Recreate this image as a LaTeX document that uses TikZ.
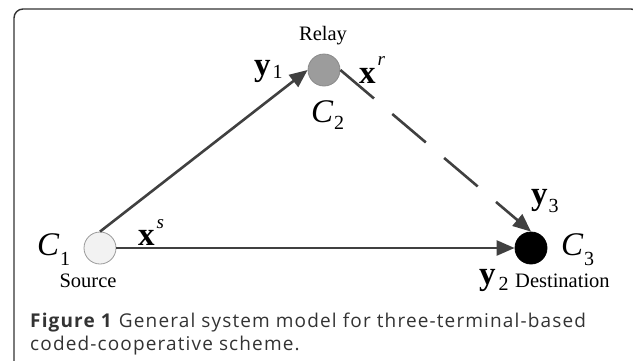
\documentclass[tikz,border=0pt]{standalone}
\usepackage{fontspec}
\setmainfont{Liberation Serif}
\newfontfamily\capfont[LetterSpace=6]{Open Sans}
\usetikzlibrary{arrows.meta}
\definecolor{arrowgray}{HTML}{404040}
\definecolor{framegray}{HTML}{333333}
\definecolor{srcfill}{HTML}{F2F2F2}
\definecolor{srcdraw}{HTML}{9A9A9A}
\definecolor{relayfill}{HTML}{9C9C9C}
\definecolor{relaydraw}{HTML}{8A8A8A}
\definecolor{captext}{HTML}{333333}
\newcommand\capsize{\capfont\fontsize{19pt}{22pt}\selectfont}
\begin{document}
\begin{tikzpicture}[x=1pt,y=-1pt,
  conn/.style={draw=arrowgray, line width=2.6pt, -{Triangle[length=18pt,width=15pt]}},
  term/.style={circle, minimum size=32pt, inner sep=0pt, line width=0.8pt},
  lbl/.style={inner sep=0pt, font=\fontsize{20.5}{20.5}\selectfont},
  sym/.style={anchor=base west, inner sep=0pt, font=\fontsize{33}{33}\selectfont},
  capline/.style={anchor=base west, inner sep=0pt, text=captext}
]
\useasboundingbox (0,0) rectangle (633,360);
\clip (0,0) rectangle (633,360);
\draw[framegray, line width=1.4pt, rounded corners=9pt] (14,9) rectangle (640,380);

\node[term, fill=srcfill, draw=srcdraw] (src) at (100,248) {};
\node[term, fill=relayfill, draw=relaydraw] (relay) at (324,70) {};
\node[term, fill=black, draw=black] (dst) at (531,248) {};

\draw[conn] (src.north) -- (relay.west);
\draw[conn] (src.east) -- (dst.west);
\draw[conn, dash pattern=on 44pt off 24pt] (relay.east) -- (dst.north);

\node[lbl, anchor=base] (relaylbl) at (323,40) {Relay};
\node[lbl, anchor=base] (srclbl) at (88,287) {Source};
\node[lbl, anchor=base west] (dstlbl) at (515,287) {Destination};

\newcommand\subtxt[2]{\raisebox{#1}{\fontsize{20}{20}\selectfont\upshape\mdseries #2}}
\node[sym] (c1) at (37,255) {\itshape C\kern1pt\subtxt{-10pt}{1}};
\node[sym] (c2) at (311,122) {\itshape C\kern1pt\subtxt{-7pt}{2}};
\node[sym] (c3) at (561,255) {\itshape C\kern1pt\subtxt{-10pt}{3}};

\node[sym] (y1) at (254,75) {\bfseries y\kern2pt\subtxt{-3pt}{1}};
\node[sym] (y3) at (531,204) {\bfseries y\kern1pt\subtxt{-8pt}{3}};
\node[sym] (y2) at (479,284) {\bfseries y\kern3pt\subtxt{-6pt}{2}};
\node[sym] (xr) at (359,83) {\bfseries x\kern2pt\raisebox{18pt}{\fontsize{19}{19}\selectfont\mdseries\itshape r}};
\node[sym] (xs) at (138,245) {\bfseries x\kern2pt\raisebox{17pt}{\fontsize{19}{19}\selectfont\mdseries\itshape s}};

\node[capline] (cap1) at (30,327) {\capsize\textbf{Figure 1} General system model for three-terminal-based};
\node[capline] (cap2) at (30,350) {\capsize coded-cooperative scheme.};
\end{tikzpicture}
\end{document}
